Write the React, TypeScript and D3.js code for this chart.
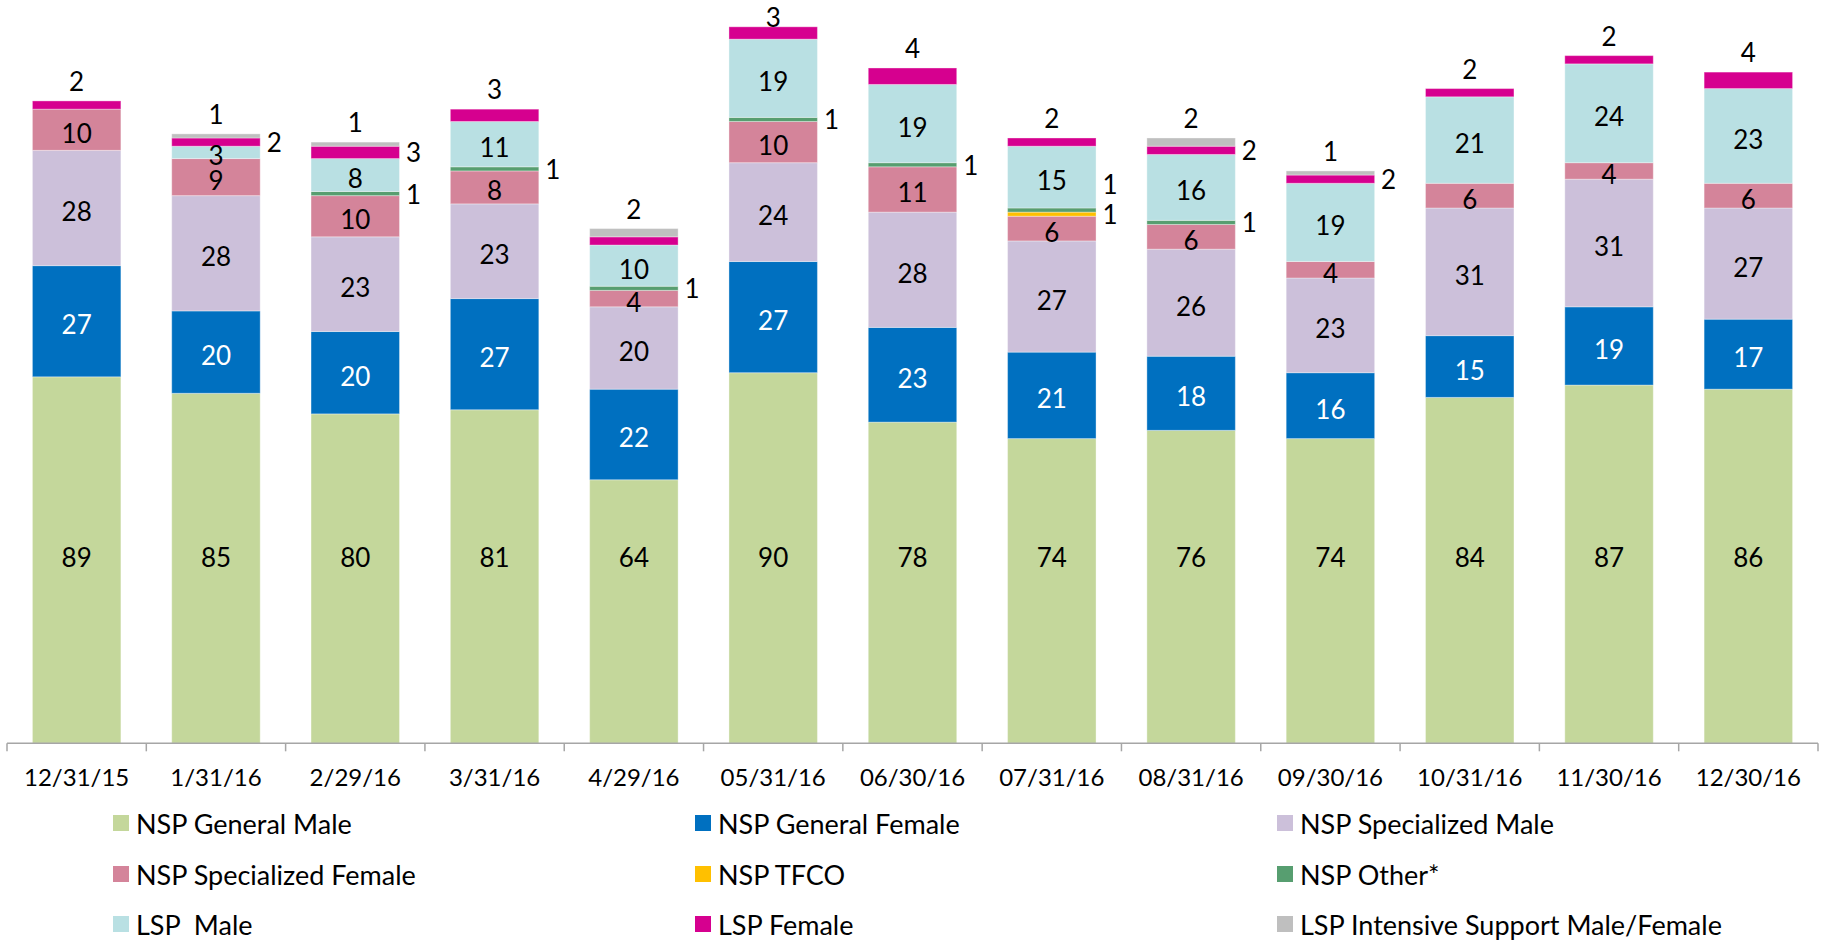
import React from "react";
import * as d3 from "d3";

const categories = ["12/31/15","1/31/16","2/29/16","3/31/16","4/29/16","05/31/16","06/30/16","07/31/16","08/31/16","09/30/16","10/31/16","11/30/16","12/30/16"];

const seriesNames = ["NSP General Male","NSP General Female","NSP Specialized Male","NSP Specialized Female","NSP TFCO","NSP Other*","LSP  Male","LSP Female","LSP Intensive Support Male/Female"];

const nspGeneralMale      = [89,85,80,81,64,90,78,74,76,74,84,87,86];
const nspGeneralFemale    = [27,20,20,27,22,27,23,21,18,16,15,19,17];
const nspSpecializedMale  = [28,28,23,23,20,24,28,27,26,23,31,31,27];
const nspSpecializedFemale= [10, 9,10, 8, 4,10,11, 6, 6, 4, 6, 4, 6];
const nspTFCO             = [ 0, 0, 0, 0, 0, 0, 0, 1, 0, 0, 0, 0, 0];
const nspOther            = [ 0, 0, 1, 1, 1, 1, 1, 1, 1, 0, 0, 0, 0];
const lspMale             = [ 0, 3, 8,11,10,19,19,15,16,19,21,24,23];
const lspFemale           = [ 2, 2, 3, 3, 2, 3, 4, 2, 2, 2, 2, 2, 4];
const lspIntensive        = [ 0, 1, 1, 0, 2, 0, 0, 0, 2, 1, 0, 0, 0];

const seriesValues = [nspGeneralMale,nspGeneralFemale,nspSpecializedMale,nspSpecializedFemale,nspTFCO,nspOther,lspMale,lspFemale,lspIntensive];

const colors = ["#C4D79B","#0070C0","#CCC0DA","#D4849A","#FFC000","#579E70","#B9E0E3","#D6008F","#BFBFBF"];
const labelColors = ["#000","#fff","#000","#000","#000","#000","#000","#000","#000"];
// series whose labels sit beside the bar when not on top
const sideLabelSeries = ["NSP TFCO","NSP Other*","LSP Female"];
const hiddenLabels = [["4/29/16","LSP Female"]];
// value level at which the bottom series' labels are anchored
const baseLabelLevel = 46;

const W = 1825, H = 940;
const FONT = "Lato, 'Open Sans', sans-serif";

export default function App() {
  const x = d3.scaleBand<string>().domain(categories).range([7, 1818]).paddingInner(0.365).paddingOuter(0.1825);
  const y = d3.scaleLinear().domain([0, 180]).range([743.3, 2.1]);

  const rows = categories.map((c, i) => {
    const r: any = { cat: c };
    seriesNames.forEach((s, j) => (r[s] = seriesValues[j][i]));
    return r;
  });
  const stacked = d3.stack<any>().keys(seriesNames)(rows);

  const bw = x.bandwidth();
  const rects: any[] = [];
  const labels: any[] = [];

  categories.forEach((c, i) => {
    let topIdx = -1;
    seriesNames.forEach((s, j) => { if (seriesValues[j][i] > 0) topIdx = j; });
    let lastSideY = Infinity;
    seriesNames.forEach((s, j) => {
      const [y0, y1] = stacked[j][i];
      const v = seriesValues[j][i];
      if (v <= 0) return;
      const x0 = x(c)!;
      rects.push({ key: `${s}-${c}`, x: x0, y: y(y1), h: y(y0) - y(y1), fill: colors[j] });
      if (hiddenLabels.some(([hc, hs]) => hc === c && hs === s)) return;
      const cy = j === 0 ? y(Math.min(baseLabelLevel, v - 10)) : (y(y0) + y(y1)) / 2;
      if (j === topIdx) {
        labels.push({ key: `l-${s}-${c}`, x: x0 + bw / 2, y: Math.max(y(y1) - 20, 17), text: v, fill: "#000" });
      } else if (sideLabelSeries.includes(s)) {
        let ly = cy;
        if (ly > lastSideY - 30) ly = lastSideY - 30;
        lastSideY = ly;
        labels.push({ key: `l-${s}-${c}`, x: x0 + bw + 14, y: ly, text: v, fill: "#000" });
      } else {
        labels.push({ key: `l-${s}-${c}`, x: x0 + bw / 2, y: cy + 3, text: v, fill: labelColors[j] });
      }
    });
  });

  const axisY = y(0);
  const step = x.step();
  const tickXs = d3.range(categories.length + 1).map(k => 7 + k * step);

  const legendCols = [113, 695, 1277];
  const legendRows = [823, 874, 924];

  return (
    <svg width={W} height={H} style={{ position: "absolute", left: 0, top: 0, background: "#fff" }} fontFamily={FONT}>
      <rect x={0} y={0} width={W} height={H} fill="#fff" />
      {rects.map(r => (
        <rect key={r.key} x={r.x} y={r.y} width={bw} height={Math.max(0, r.h)} fill={r.fill} stroke="#fff" strokeOpacity={0.35} strokeWidth={1} />
      ))}
      <line x1={7} x2={1818} y1={axisY} y2={axisY} stroke="#A6A6A6" strokeWidth={1.5} />
      {tickXs.map((tx, k) => (
        <line key={`t${k}`} x1={tx} x2={tx} y1={axisY} y2={axisY + 8} stroke="#A6A6A6" strokeWidth={1.5} />
      ))}
      {categories.map(c => (
        <text key={`c-${c}`} x={x(c)! + bw / 2} y={776} textAnchor="middle" dominantBaseline="central" fontSize={24} fill="#000">{c}</text>
      ))}
      {labels.map(l => (
        <text key={l.key} x={l.x} y={l.y} textAnchor="middle" dominantBaseline="central" fontSize={26} fill={l.fill}>{l.text}</text>
      ))}
      {seriesNames.map((s, j) => {
        const lx = legendCols[j % 3];
        const ly = legendRows[Math.floor(j / 3)];
        return (
          <g key={`lg-${s}`}>
            <rect x={lx} y={ly - 8} width={16} height={16} fill={colors[j]} />
            <text x={lx + 23} y={ly} dominantBaseline="central" fontSize={27} fill="#000" style={{ whiteSpace: "pre" }}>{s}</text>
          </g>
        );
      })}
    </svg>
  );
}
